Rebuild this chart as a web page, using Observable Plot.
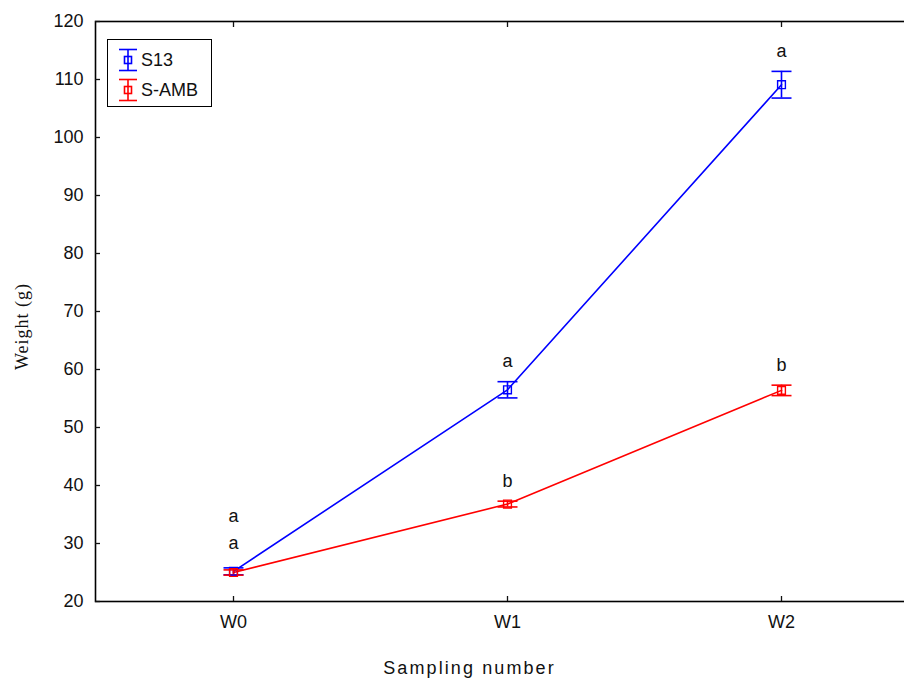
<!DOCTYPE html>
<html>
<head>
<meta charset="utf-8">
<script src="https://cdn.jsdelivr.net/npm/d3@7"></script>
<script src="https://cdn.jsdelivr.net/npm/@observablehq/plot@0.6"></script>
<style>
  html, body { margin: 0; padding: 0; background: #fff; overflow: hidden; }
  #wrap { position: relative; width: 904px; height: 679px; }
  #wrap svg.plot { overflow: hidden; }
  .legend {
    position: absolute; left: 107px; top: 39px; width: 103px; height: 66px;
    border: 1.5px solid #000; background: #fff;
    font-family: "Liberation Sans", Arial, sans-serif; font-size: 18px; color: #111;
  }
  .legend .item { position: absolute; left: 10px; height: 24px; display: flex; align-items: center; }
  .legend .item svg { display: block; margin-right: 3px; }
</style>
</head>
<body>
<div id="wrap"></div>
<script>
// Sampling points and group means with their error bars (weight in grams)
const samples = ["W0", "W1", "W2"];
const seriesNames = ["S13", "S-AMB"];
const seriesColors = ["#0000ff", "#ff0000"];
const s13Mean = [25.2, 56.5, 109.1];
const s13Err = [0.6, 1.4, 2.3];
const sambMean = [25.0, 36.8, 56.4];
const sambErr = [0.45, 0.5, 0.9];
const s13Letters = ["a", "a", "a"];
const sambLetters = ["a", "b", "b"];
const yTicks = [20, 30, 40, 50, 60, 70, 80, 90, 100, 110, 120];
const xTitle = "Sampling number";
const yTitle = "Weight (g)";

const rows = [];
samples.forEach((s, i) => {
  rows.push({sample: s, series: "S13", mean: s13Mean[i], err: s13Err[i], letter: s13Letters[i]});
  rows.push({sample: s, series: "S-AMB", mean: sambMean[i], err: sambErr[i], letter: sambLetters[i]});
});
rows.forEach(d => { d.lo = d.mean - d.err; d.hi = d.mean + d.err; });

// horizontal cap for error bars
const cap = {
  draw(context, size) {
    const w = Math.sqrt(size / Math.PI);
    context.moveTo(-w, 0);
    context.lineTo(w, 0);
  }
};

const font = "'Liberation Sans', Arial, sans-serif";

const chart = Plot.plot({
  width: 904,
  height: 679,
  marginLeft: 95,
  marginRight: -15,
  marginTop: 21,
  marginBottom: 78,
  style: {fontFamily: font, fontSize: "18px", color: "#111", background: "#fff"},
  x: {type: "point", domain: samples, padding: 0.5, label: null},
  y: {domain: [20, 120], label: null},
  color: {domain: seriesNames, range: seriesColors},
  marks: [
    Plot.frame({stroke: "#000", strokeWidth: 1.6}),
    Plot.axisY({ticks: yTicks, tickSize: -5, tickPadding: 17, strokeWidth: 1.3, label: null, fontSize: 18}),
    Plot.axisX({tickSize: -5, tickPadding: 19, strokeWidth: 1.3, label: null, fontSize: 18}),
    Plot.axisX({anchor: "top", tickSize: -5, strokeWidth: 1.3, tickFormat: () => "", label: null}),
    Plot.line(rows, {x: "sample", y: "mean", z: "series", stroke: "series", strokeWidth: 1.6}),
    Plot.ruleX(rows, {x: "sample", y1: "lo", y2: "hi", stroke: "series", strokeWidth: 1.6}),
    Plot.dot(rows, {x: "sample", y: "lo", symbol: cap, r: 10, stroke: "series", strokeWidth: 1.6}),
    Plot.dot(rows, {x: "sample", y: "hi", symbol: cap, r: 10, stroke: "series", strokeWidth: 1.6}),
    Plot.dot(rows, {x: "sample", y: "mean", symbol: "square", r: 4.4, stroke: "series", strokeWidth: 1.4, fill: "none"}),
    // significance letters above each bar
    Plot.text(rows.filter(d => d.sample !== "W0"), {x: "sample", y: "hi", text: "letter", dy: -20, fontSize: 18, fill: "#111"}),
    Plot.text(rows.filter(d => d.sample === "W0" && d.series === "S13"), {x: "sample", y: "hi", text: "letter", dy: -52, fontSize: 18, fill: "#111"}),
    Plot.text(rows.filter(d => d.sample === "W0" && d.series === "S-AMB"), {x: "sample", y: "hi", text: "letter", dy: -27, fontSize: 18, fill: "#111"}),
    // axis titles
    Plot.text([xTitle], {frameAnchor: "bottom", textAnchor: "middle", lineAnchor: "middle", dx: -38, dy: 67, fontSize: 18, fill: "#111"}),
    Plot.text([yTitle], {frameAnchor: "left", textAnchor: "middle", lineAnchor: "middle", dx: -73, dy: 15, rotate: -90, fontSize: 18, fontFamily: "'Liberation Serif', 'Times New Roman', serif", fill: "#111"})
  ]
});

// widen the tracking of the two axis titles
chart.querySelectorAll("text").forEach(t => {
  if (t.textContent === xTitle) t.style.letterSpacing = "2.1px";
  if (t.textContent === yTitle) t.style.letterSpacing = "1px";
});

const wrap = document.getElementById("wrap");
wrap.appendChild(chart);

// legend: error-bar icon plus series name
const legend = document.createElement("div");
legend.className = "legend";
seriesNames.forEach((name, i) => {
  const item = document.createElement("div");
  item.className = "item";
  item.style.top = (i === 0 ? 8 : 38) + "px";
  const c = seriesColors[i];
  item.innerHTML =
    `<svg width="20" height="24" viewBox="0 0 20 24">
       <g stroke="${c}" stroke-width="1.6" fill="none">
         <line x1="1" x2="19" y1="1.5" y2="1.5"/>
         <line x1="1" x2="19" y1="22.5" y2="22.5"/>
         <line x1="10" x2="10" y1="1.5" y2="22.5"/>
         <rect x="6.5" y="8.5" width="7" height="7"/>
       </g>
     </svg><span>${name}</span>`;
  legend.appendChild(item);
});
wrap.appendChild(legend);
</script>
</body>
</html>
